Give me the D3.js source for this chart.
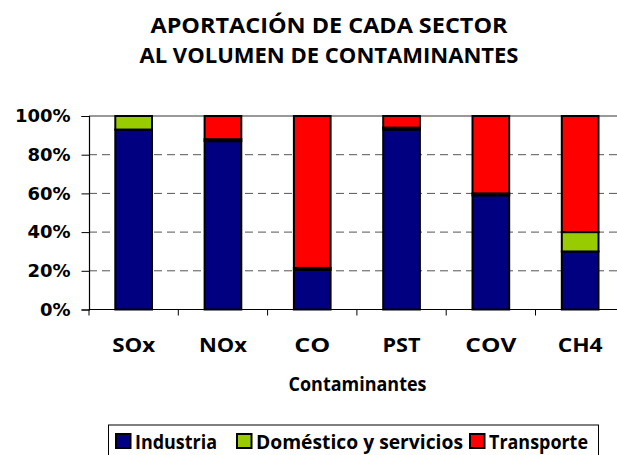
<!DOCTYPE html>
<html><head><meta charset="utf-8">
<script src="https://cdn.jsdelivr.net/npm/d3@7/dist/d3.min.js"></script>
<style>
html,body{margin:0;padding:0;background:#fff;overflow:hidden}
svg{display:block}
</style></head>
<body>
<script>
const categories = ["SOx","NOx","CO","PST","COV","CH4"];
const industria  = [93, 87, 20.5, 93, 59, 30];
const domestico  = [7, 1, 1, 1, 1, 10];
const transporte = [0, 12, 78.5, 6, 40, 60];
const seriesNames = ["Industria","Doméstico y servicios","Transporte"];
const seriesColors = ["#000080","#99cc00","#ff0000"];
const yTicks = [0,20,40,60,80,100];
const titleLines = ["APORTACIÓN DE CADA SECTOR","AL VOLUMEN DE CONTAMINANTES"];
const xTitle = "Contaminantes";

(function(){
const W=617,H=455;
const svg=d3.select("body").append("svg").attr("width",W).attr("height",H);
const pLeft=89, pRight=624.8, pTop=116, pBottom=309.5;
// layout: rendered text widths of the reference's (wider) font
const titleWidths=[357,379];
const catWidths=[43,48,36,38,51,45];
const legWidths=[82,207,99];
const legX=[115,236,469];

const x=d3.scaleBand().domain(categories).range([pLeft,pRight]).paddingInner(0.589).paddingOuter(0.2945);
const y=d3.scaleLinear().domain([0,100]).range([pBottom,pTop]);

const font="'Open Sans', Lato, sans-serif";
svg.append("g").selectAll("text").data(titleLines).join("text")
  .attr("x",329).attr("y",(d,i)=>33+i*29.5).attr("text-anchor","middle")
  .attr("font-family",font).attr("font-weight","bold").attr("font-size",21.5)
  .attr("textLength",(d,i)=>titleWidths[i]).attr("lengthAdjust","spacingAndGlyphs")
  .attr("fill","#000").text(d=>d);

svg.append("g").selectAll("line").data(yTicks.filter(t=>t>0&&t<100)).join("line")
  .attr("x1",pLeft).attr("x2",W).attr("y1",d=>y(d)).attr("y2",d=>y(d))
  .attr("stroke","#555").attr("stroke-width",1).attr("stroke-dasharray","8,5");
svg.append("line").attr("x1",pLeft).attr("x2",W).attr("y1",y(100)).attr("y2",y(100))
  .attr("stroke","#333").attr("stroke-width",1);

const rows=categories.map((c,i)=>({cat:c,Industria:industria[i],"Doméstico y servicios":domestico[i],Transporte:transporte[i]}));
const stack=d3.stack().keys(seriesNames)(rows);
svg.append("g").selectAll("g").data(stack).join("g")
  .attr("fill",(d,i)=>seriesColors[i])
  .selectAll("rect").data(d=>d.filter(s=>s[1]-s[0]>0)).join("rect")
  .attr("x",d=>x(d.data.cat)).attr("width",x.bandwidth())
  .attr("y",d=>y(d[1])).attr("height",d=>y(d[0])-y(d[1]))
  .attr("stroke","#000").attr("stroke-width",2);

const yAxis=d3.axisLeft(y).tickValues(yTicks).tickFormat(d=>d+"%").tickSize(7.5).tickPadding(11);
const ya=svg.append("g").attr("transform",`translate(${pLeft},0)`).call(yAxis);
ya.select(".domain").attr("stroke","#000").attr("stroke-width",1.2);
ya.selectAll(".tick line").attr("stroke","#000");
ya.selectAll("text").attr("font-family","'DejaVu Sans', sans-serif").attr("font-weight","bold")
  .attr("font-size",18).attr("fill","#000");

const xa=svg.append("g").attr("transform",`translate(0,${pBottom})`);
xa.append("line").attr("x1",pLeft).attr("x2",W).attr("stroke","#000").attr("stroke-width",1.2);
const bounds=d3.range(categories.length+1).map(i=>pLeft+i*x.step());
xa.selectAll("line.t").data(bounds).join("line").attr("class","t")
  .attr("x1",d=>d).attr("x2",d=>d).attr("y1",0).attr("y2",6).attr("stroke","#000");
xa.selectAll("text").data(categories).join("text")
  .attr("x",d=>x(d)+x.bandwidth()/2).attr("y",42.5).attr("text-anchor","middle")
  .attr("font-family",font).attr("font-weight","bold").attr("font-size",19.5).attr("fill","#000")
  .attr("textLength",(d,i)=>catWidths[i]).attr("lengthAdjust","spacingAndGlyphs").text(d=>d);

svg.append("text").attr("x",357.5).attr("y",391).attr("text-anchor","middle")
  .attr("font-family",font).attr("font-weight","bold").attr("font-size",19)
  .attr("textLength",138).attr("lengthAdjust","spacingAndGlyphs").text(xTitle);

const lg=svg.append("g");
lg.append("rect").attr("x",108.5).attr("y",425).attr("width",490).attr("height",40)
  .attr("fill","#fff").attr("stroke","#000").attr("stroke-width",1);
const items=lg.selectAll("g").data(seriesNames).join("g").attr("transform",(d,i)=>`translate(${legX[i]},0)`);
items.append("rect").attr("x",1).attr("y",434).attr("width",14.5).attr("height",14)
  .attr("fill",(d,i)=>seriesColors[i]).attr("stroke","#000").attr("stroke-width",2);
items.append("text").attr("x",20).attr("y",448.5).attr("font-family",font).attr("font-weight","bold")
  .attr("font-size",19.5).attr("fill","#000")
  .attr("textLength",(d,i)=>legWidths[i]).attr("lengthAdjust","spacingAndGlyphs").text(d=>d);
})();
</script>
</body></html>
